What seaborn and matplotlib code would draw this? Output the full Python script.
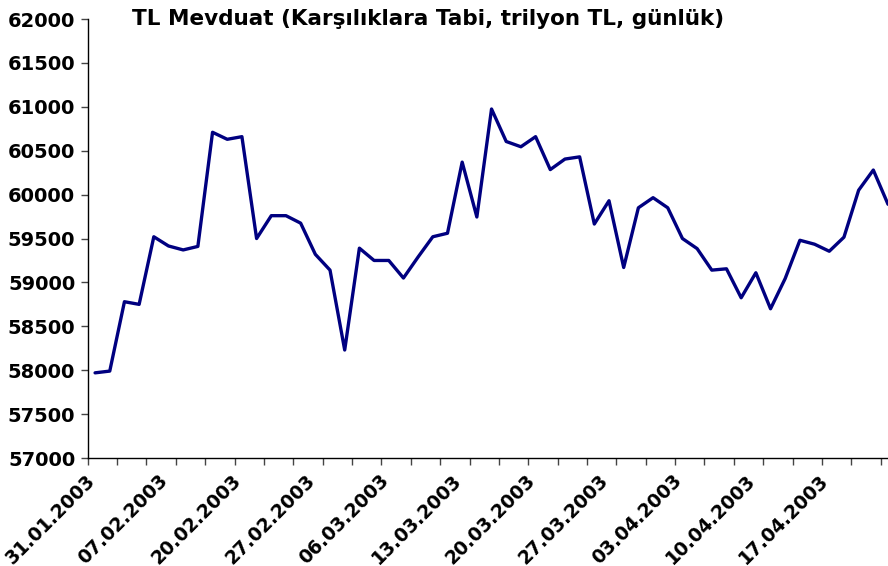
import numpy as np
import pandas as pd
import matplotlib
matplotlib.use("Agg")
import matplotlib.pyplot as plt
import matplotlib.transforms as mtransforms
import seaborn as sns

# daily TL deposits (subject to reserve requirements), trillion TL
values = [
    57970, 57990, 58780, 58750, 59520, 59415, 59370, 59410, 60710, 60630,
    60660, 59500, 59760, 59760, 59675, 59320, 59140, 58230, 59390, 59250,
    59250, 59050, 59290, 59520, 59560, 60370, 59745, 60975, 60605, 60545,
    60660, 60285, 60405, 60430, 59665, 59930, 59170, 59850, 59965, 59850,
    59500, 59385, 59140, 59155, 58825, 59110, 58700, 59045, 59480, 59435,
    59355, 59515, 60050, 60280, 59890,
]
tick_labels = [
    "31.01.2003", "07.02.2003", "20.02.2003", "27.02.2003", "06.03.2003",
    "13.03.2003", "20.03.2003", "27.03.2003", "03.04.2003", "10.04.2003",
    "17.04.2003",
]
y_ticks = list(range(57000, 62001, 500))

df = pd.DataFrame({"idx": np.arange(len(values)), "value": values})

sns.set_style("ticks")
plt.rcParams["font.family"] = ["DejaVu Sans"]
plt.rcParams["font.weight"] = "bold"
plt.rcParams["text.color"] = "black"
plt.rcParams["xtick.color"] = "black"
plt.rcParams["ytick.color"] = "black"

fig = plt.figure(figsize=(8.88, 5.66), dpi=100)
ax = fig.add_axes([0.0988, 0.1908, 0.9012, 0.7756])

sns.lineplot(data=df, x="idx", y="value", color="#000080", linewidth=2.4, ax=ax)

ax.set_xlim(-0.5, 54.0)
ax.set_ylim(57000, 62000)
ax.set_yticks(y_ticks)
ax.set_yticklabels([str(v) for v in y_ticks], fontsize=14, fontweight="bold")

# tick marks on category boundaries, labels every 5 categories
ax.set_xticks(np.arange(-0.5, 54.5, 2))
ax.set_xticklabels([])
ax.set_xticks(np.arange(0, len(tick_labels) * 5, 5), minor=True)
ax.set_xticklabels(tick_labels, minor=True, rotation=45, ha="right",
                   rotation_mode="anchor", fontsize=13.5, fontweight="bold")
ax.tick_params(axis="x", which="minor", length=0, pad=9)
ax.tick_params(axis="x", which="major", length=5, width=1, color="#444444")
ax.tick_params(axis="y", length=5, width=1, pad=4, color="#444444")

shift = mtransforms.ScaledTranslation(-10 / 100, 0, fig.dpi_scale_trans)
for lbl in ax.get_xticklabels(minor=True):
    lbl.set_transform(lbl.get_transform() + shift)

ax.set_xlabel("")
ax.set_ylabel("")
sns.despine(ax=ax)
for s in ["left", "bottom"]:
    ax.spines[s].set_color("#000000")
    ax.spines[s].set_linewidth(1)

fig.text(0.482, 0.966, "TL Mevduat (Karşılıklara Tabi, trilyon TL, günlük)",
         ha="center", va="center", fontsize=15.5, fontweight="bold")

fig.savefig("out.png", dpi=100)
